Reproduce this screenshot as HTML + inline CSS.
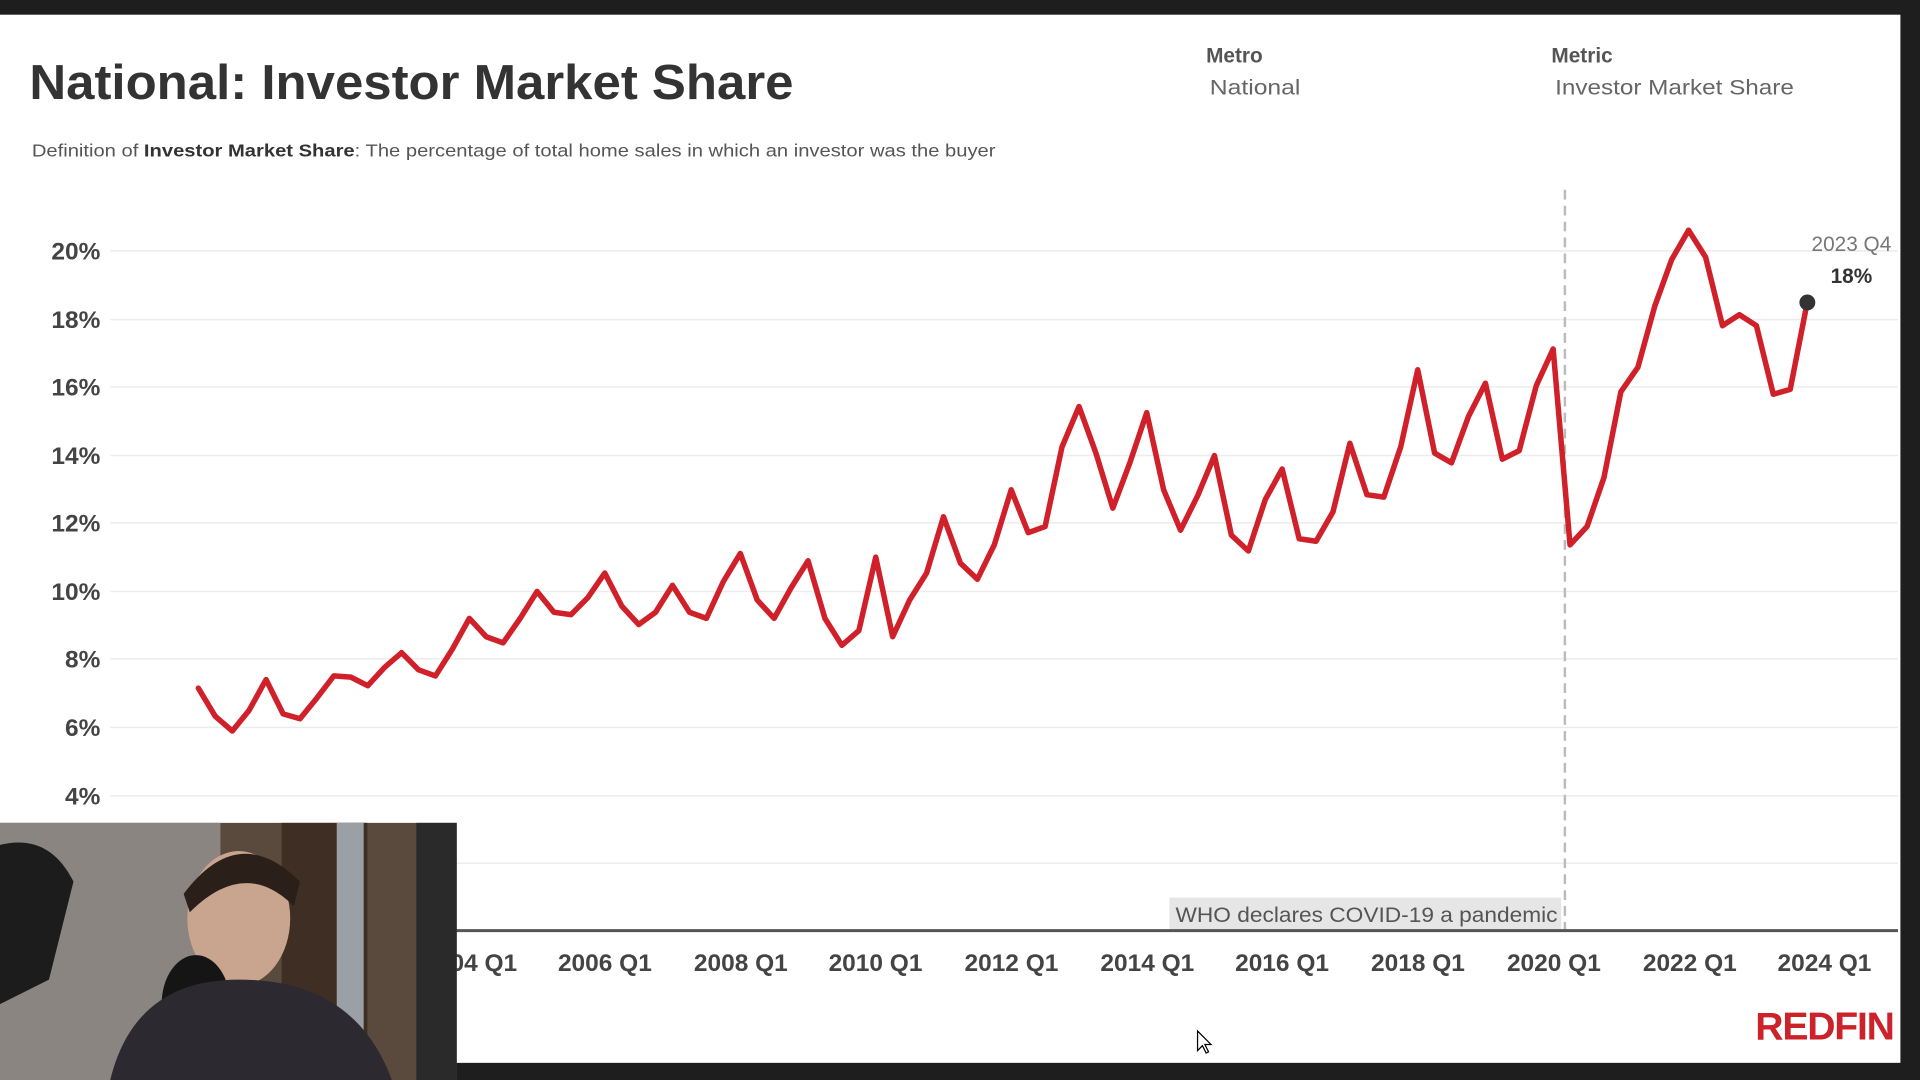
<!DOCTYPE html>
<html><head><meta charset="utf-8"><style>
html,body{margin:0;padding:0;background:#1e1e1e;overflow:hidden}
svg{display:block}
</style></head><body>
<svg width="1920" height="1080" viewBox="0 0 1568 882" xmlns="http://www.w3.org/2000/svg" font-family="Liberation Sans, sans-serif">
<rect x="0" y="0" width="1568" height="882" fill="#1e1e1e"/>
<rect x="0" y="12" width="1552" height="856" fill="#ffffff"/>
<text x="24" y="81" font-size="40" font-weight="bold" fill="#333" textLength="624" lengthAdjust="spacingAndGlyphs">National: Investor Market Share</text>
<text x="985" y="51" font-size="17" font-weight="bold" fill="#555">Metro</text>
<text x="988" y="77" font-size="17" fill="#666" textLength="74" lengthAdjust="spacingAndGlyphs">National</text>
<text x="1267" y="51" font-size="17" font-weight="bold" fill="#555">Metric</text>
<text x="1270" y="77" font-size="17" fill="#666" textLength="195" lengthAdjust="spacingAndGlyphs">Investor Market Share</text>
<text x="26" y="128" font-size="14.5" fill="#555" textLength="787" lengthAdjust="spacingAndGlyphs">Definition of <tspan font-weight="bold" fill="#333">Investor Market Share</tspan>: The percentage of total home sales in which an investor was the buyer</text>
<g stroke="#ececec" stroke-width="1.2">
<line x1="90" x2="1550" y1="205" y2="205"/><line x1="90" x2="1550" y1="261" y2="261"/><line x1="90" x2="1550" y1="316" y2="316"/><line x1="90" x2="1550" y1="372" y2="372"/><line x1="90" x2="1550" y1="427" y2="427"/><line x1="90" x2="1550" y1="483" y2="483"/><line x1="90" x2="1550" y1="538" y2="538"/><line x1="90" x2="1550" y1="594" y2="594"/><line x1="90" x2="1550" y1="650" y2="650"/><line x1="90" x2="1550" y1="705" y2="705"/>
</g>
<g font-size="20" font-weight="bold" fill="#444" text-anchor="end">
<text x="82" y="212">20%</text><text x="82" y="268">18%</text><text x="82" y="323">16%</text><text x="82" y="379">14%</text><text x="82" y="434">12%</text><text x="82" y="490">10%</text><text x="82" y="545">8%</text><text x="82" y="601">6%</text><text x="82" y="657">4%</text>
</g>
<rect x="955" y="733" width="320" height="27" fill="#e6e6e6"/>
<text x="960" y="753" font-size="17" fill="#555" textLength="312" lengthAdjust="spacingAndGlyphs">WHO declares COVID-19 a pandemic</text>
<line x1="1278" y1="155" x2="1278" y2="760" stroke="#bbb" stroke-width="2" stroke-dasharray="8,5"/>
<line x1="90" y1="760" x2="1550" y2="760" stroke="#555" stroke-width="2.5"/>
<g font-size="20" font-weight="bold" fill="#444" text-anchor="middle">
<text x="384" y="793">2004 Q1</text><text x="494" y="793">2006 Q1</text><text x="605" y="793">2008 Q1</text><text x="715" y="793">2010 Q1</text><text x="826" y="793">2012 Q1</text><text x="937" y="793">2014 Q1</text><text x="1047" y="793">2016 Q1</text><text x="1158" y="793">2018 Q1</text><text x="1269" y="793">2020 Q1</text><text x="1380" y="793">2022 Q1</text><text x="1490" y="793">2024 Q1</text>
</g>
<polyline fill="none" stroke="#d0202a" stroke-width="4.5" stroke-linejoin="round" stroke-linecap="round" points="162,562 175.8,585 189.7,597 203.5,580 217.3,555 231.2,583 245,587 258.8,570 272.6,552 286.5,553 300.3,560 314.1,545 328,533 341.8,547 355.6,552 369.5,530 383.3,505 397.1,520 410.9,525 424.8,505 438.6,483 452.4,500 466.3,502 480.1,488 493.9,468 507.8,495 521.6,510 535.4,500 549.2,478 563.1,500 576.9,505 590.7,475 604.6,452 618.4,490 632.2,505 646.1,480 659.9,458 673.7,505 687.5,527 701.4,515 715.2,455 729,520 742.9,490 756.7,468 770.5,422 784.4,460 798.2,473 812,445 825.8,400 839.7,435 853.5,430 867.3,365 881.2,332 895,370 908.8,415 922.7,378 936.5,337 950.3,400 964.1,433 978,405 991.8,372 1005.6,437 1019.5,450 1033.3,408 1047.1,383 1061,440 1074.8,442 1088.6,418 1102.4,362 1116.3,404 1130.1,406 1143.9,365 1157.8,302 1171.6,370 1185.4,378 1199.3,340 1213.1,313 1226.9,375 1240.7,368 1254.6,315 1268.4,285 1282.2,445 1296.1,430 1309.9,390 1323.7,320 1337.6,300 1351.4,250 1365.2,212 1379,188 1392.9,210 1406.7,266 1420.5,257 1434.4,266 1448.2,322 1462,318 1475.9,247"/>
<circle cx="1476" cy="247" r="6.5" fill="#333"/>
<text x="1512" y="205" font-size="17" fill="#777" text-anchor="middle">2023 Q4</text>
<text x="1512" y="231" font-size="17" font-weight="bold" fill="#333" text-anchor="middle">18%</text>
<text x="1490" y="849" font-size="32" font-weight="bold" fill="#cc2229" text-anchor="middle" letter-spacing="-1">REDFIN</text>
<path d="M978 842 L978 858 L982 854 L985 860 L987 859 L984 853 L989 853 Z" fill="#fff" stroke="#000" stroke-width="1"/>
<rect x="0" y="672" width="373" height="210" fill="#5a4a3e"/>
<rect x="0" y="672" width="180" height="210" fill="#8a8580"/>
<rect x="230" y="672" width="70" height="210" fill="#3e2e24"/>
<rect x="275" y="672" width="22" height="210" fill="#9aa0a6"/>
<rect x="340" y="672" width="33" height="210" fill="#2a2a2a"/>
<ellipse cx="195" cy="750" rx="42" ry="55" fill="#c9a48e"/>
<path d="M150 730 Q195 670 245 720 L240 740 Q200 700 155 745 Z" fill="#2b1f1a"/>
<ellipse cx="160" cy="820" rx="28" ry="40" fill="#151515"/>
<path d="M90 882 Q110 800 195 800 Q290 800 320 882 Z" fill="#2c2a30"/>
<path d="M0 690 Q40 680 60 720 L40 800 L0 820 Z" fill="#1c1c1c"/>
</svg>
</body></html>
